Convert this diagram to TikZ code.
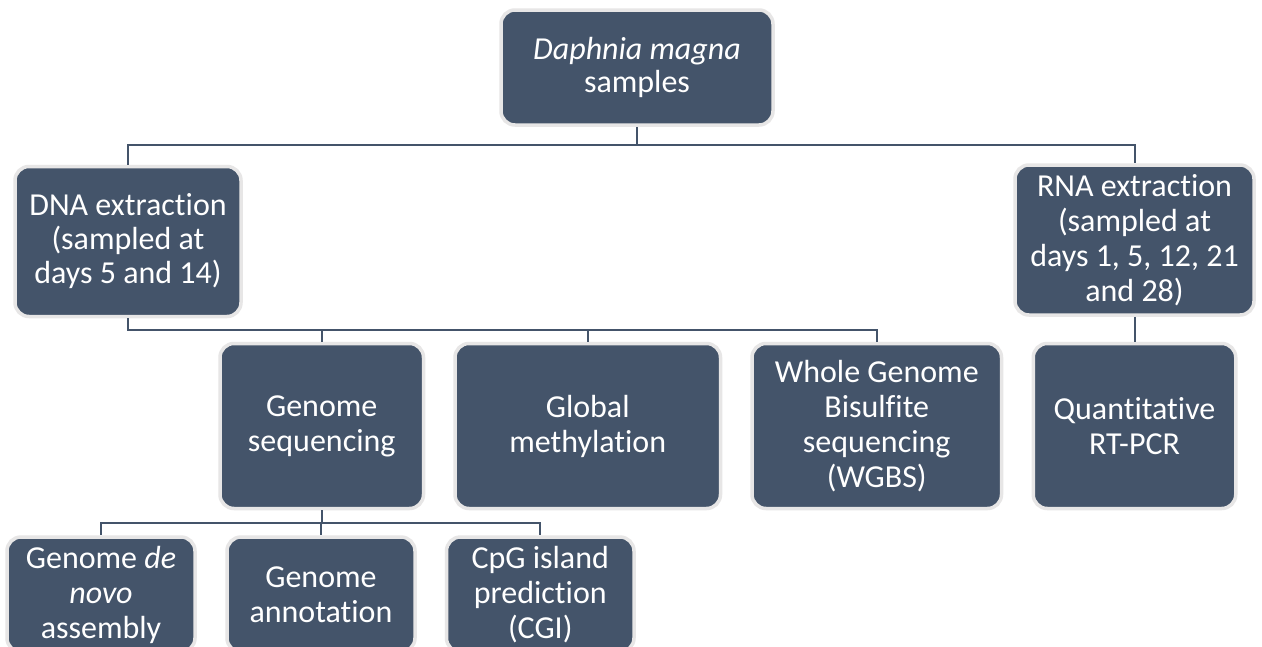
\documentclass[tikz,border=0pt]{standalone}
\usepackage{fontspec}
\setmainfont{Carlito}[Ligatures=NoCommon]
\definecolor{boxfill}{HTML}{44546A}
\definecolor{boxedge}{HTML}{E7E6E6}
\definecolor{linecol}{HTML}{44546A}
\begin{document}
\begin{tikzpicture}[x=1pt,y=-1pt,
  box/.style={draw=boxedge, line width=3.5pt, fill=boxfill, rounded corners=14pt,
    text=white, align=center, inner sep=2pt,
    font=\fontsize{32}{35}\selectfont},
  link/.style={draw=linecol, line width=2pt}]
\useasboundingbox (0,0) rectangle (1262,646);
\clip (0,0) rectangle (1262,646);
\fill[white] (0,0) rectangle (1262,646);
% top
\node[box, minimum width=272, minimum height=115, font=\fontsize{32}{33}\selectfont] (top) at (637,67.5) {\textit{Daphnia magna}\\samples};
% second row
\node[box, minimum width=226, minimum height=150, font=\fontsize{32}{34}\selectfont] (dna) at (128,241.5) {DNA extraction\\(sampled at\\days 5 and 14)};
\node[box, minimum width=239, minimum height=150] (rna) at (1134.5,240) {RNA extraction\\(sampled at\\days 1, 5, 12, 21\\and 28)};
% third row
\node[box, minimum width=203.5, minimum height=165] (gs) at (321.75,426) {Genome\\sequencing};
\node[box, minimum width=265.5, minimum height=165] (gm) at (587.75,426) {Global\\methylation};
\node[box, minimum width=249.5, minimum height=165] (wgbs) at (876.75,426) {Whole Genome\\Bisulfite\\sequencing\\(WGBS)};
\node[box, minimum width=202.5, minimum height=165] (qpcr) at (1134.5,426) {Quantitative\\RT-PCR};
% bottom row
\node[box, minimum width=188, minimum height=115] (dn) at (101,594.5) {Genome \textit{de}\\\textit{novo}\\assembly};
\node[box, minimum width=188, minimum height=115] (ann) at (321,594.5) {Genome\\annotation};
\node[box, minimum width=187.5, minimum height=115] (cgi) at (540.25,594.5) {CpG island\\prediction\\(CGI)};
% connectors
\coordinate (j1) at (637,145);
\draw[link] (top.south) -- (j1) -| (dna.north);
\draw[link] (j1) -| (rna.north);
\coordinate (j2) at (128,330);
\draw[link] (dna.south) -- (j2) -| (gs.north);
\draw[link] (j2) -| (gm.north);
\draw[link] (j2) -| (wgbs.north);
\draw[link] (rna.south) -- (qpcr.north);
\coordinate (j3) at (321.75,523);
\draw[link] (gs.south) -- (j3) -| (dn.north);
\draw[link] (j3) -| (ann.north);
\draw[link] (j3) -| (cgi.north);
\end{tikzpicture}
\end{document}
